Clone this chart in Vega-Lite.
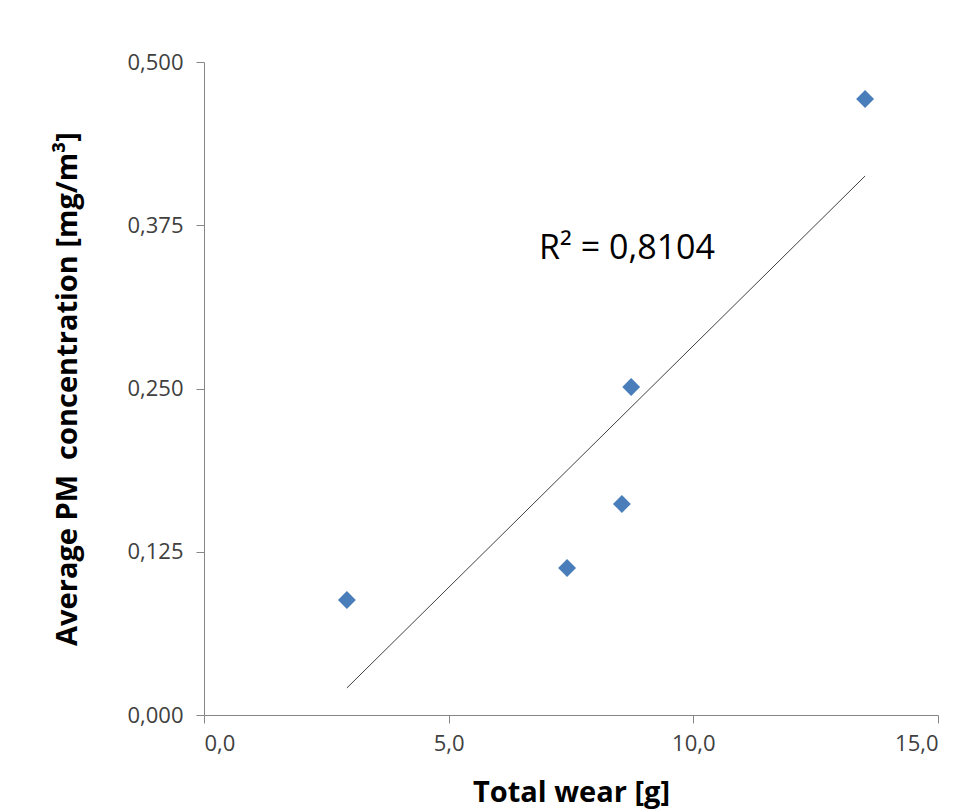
{
  "$schema": "https://vega.github.io/schema/vega-lite/v6.json",
  "width": 734,
  "height": 653,
  "autosize": {"type": "none"},
  "padding": {"left": 204, "top": 62, "right": 29, "bottom": 94},
  "background": "white",
  "config": {
    "view": {"stroke": null},
    "font": "Open Sans"
  },
  "datasets": {
    "points": [
      {"wear": 2.92, "pm": 0.0881},
      {"wear": 7.42, "pm": 0.1126},
      {"wear": 8.54, "pm": 0.1616},
      {"wear": 8.73, "pm": 0.2511},
      {"wear": 13.51, "pm": 0.4717}
    ],
    "trend": [
      {"wear": 2.92, "pm": 0.0207},
      {"wear": 13.51, "pm": 0.4127}
    ],
    "label": [
      {"wear": 8.645, "pm": 0.3568, "text": "R² = 0,8104"}
    ]
  },
  "layer": [
    {
      "data": {"name": "trend"},
      "mark": {"type": "line", "color": "#404040", "strokeWidth": 1},
      "encoding": {
        "x": {
          "field": "wear", "type": "quantitative",
          "scale": {"domain": [0, 15], "nice": false, "zero": false},
          "axis": {
            "title": "Total wear [g]",
            "values": [0, 5, 10, 15],
            "labelExpr": "replace(format(datum.value, '.1f'), '.', ',')",
            "grid": false,
            "domainColor": "#868686",
            "tickColor": "#868686",
            "tickSize": 8,
            "labelFontSize": 22,
            "labelColor": "#404040",
            "labelPadding": 10,
            "labelFont": "Open Sans",
            "titleFont": "Open Sans",
            "titleFontSize": 29,
            "titleFontWeight": "bold",
            "titleColor": "#000000",
            "titlePadding": 24
          }
        },
        "y": {
          "field": "pm", "type": "quantitative",
          "scale": {"domain": [0, 0.5], "nice": false, "zero": false},
          "axis": {
            "title": "Average PM \u00a0concentration [mg/m³]",
            "values": [0, 0.125, 0.25, 0.375, 0.5],
            "labelExpr": "replace(format(datum.value, '.3f'), '.', ',')",
            "grid": false,
            "domainColor": "#868686",
            "tickColor": "#868686",
            "tickSize": 8,
            "labelFontSize": 22,
            "labelColor": "#404040",
            "labelPadding": 13,
            "labelFont": "Open Sans",
            "titleFont": "Open Sans",
            "titleFontSize": 29,
            "titleFontWeight": "bold",
            "titleColor": "#000000",
            "titlePadding": 44
          }
        }
      }
    },
    {
      "data": {"name": "points"},
      "mark": {"type": "point", "shape": "diamond", "filled": true, "color": "#4A7EBB", "opacity": 1, "size": 320},
      "encoding": {
        "x": {"field": "wear", "type": "quantitative"},
        "y": {"field": "pm", "type": "quantitative"}
      }
    },
    {
      "data": {"name": "label"},
      "mark": {"type": "text", "fontSize": 34, "color": "#000000", "font": "Open Sans", "align": "center", "baseline": "middle"},
      "encoding": {
        "x": {"field": "wear", "type": "quantitative"},
        "y": {"field": "pm", "type": "quantitative"},
        "text": {"field": "text"}
      }
    }
  ]
}
